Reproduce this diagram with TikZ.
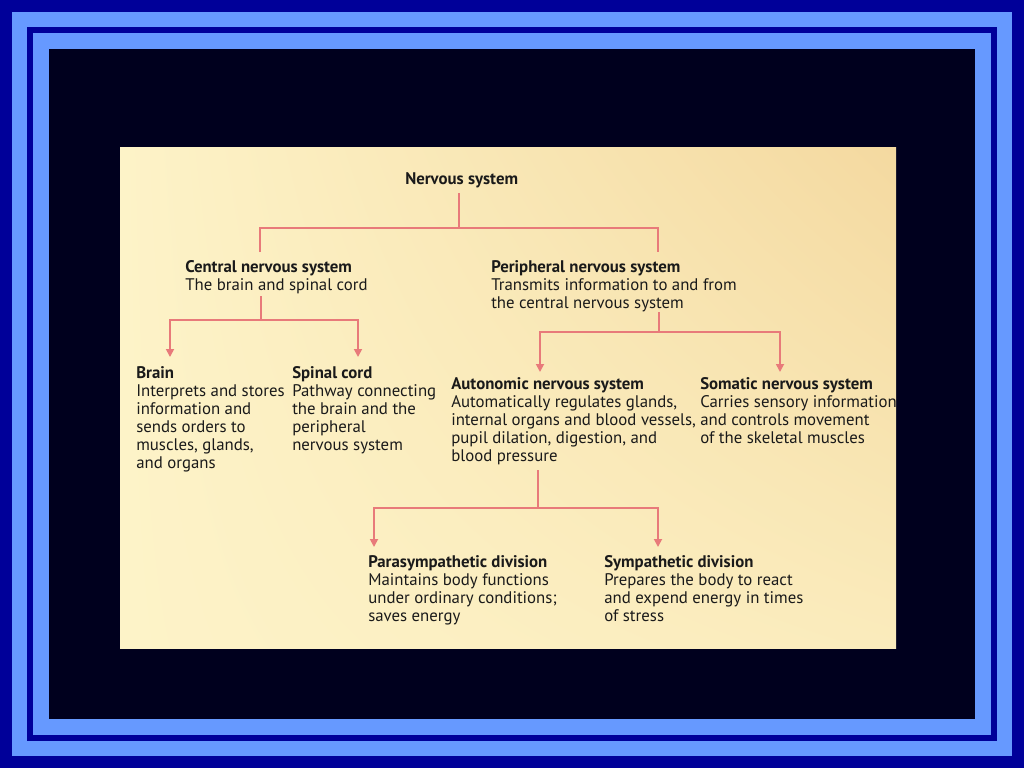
\documentclass[tikz,border=0pt]{standalone}
\usepackage{fontspec}
\setmainfont{PT Sans}
\usetikzlibrary{arrows.meta,shadings}
\definecolor{bgdark}{HTML}{000099}
\definecolor{band}{HTML}{6699FF}
\definecolor{inner}{HTML}{00001E}
\definecolor{tanA}{HTML}{F4D9A0}
\definecolor{tanB}{HTML}{FDF3C8}
\definecolor{link}{HTML}{E87A7A}
\definecolor{txt}{HTML}{1A1A1A}
\begin{document}
\begin{tikzpicture}[x=0.75pt,y=-0.75pt,
  lbl/.style={anchor=north west,align=left,inner sep=0pt,font=\fontsize{12.6}{13.5}\selectfont,text=txt},
  conn/.style={draw=link,line width=1.3pt},
  arr/.style={conn,-{Triangle[length=6pt,width=6pt]}}]
\useasboundingbox (0,0) rectangle (1024,768);
\fill[bgdark] (0,0) rectangle (1024,768);
\fill[band] (12,12) rectangle (1012,756);
\fill[bgdark] (27,27) rectangle (997,741);
\fill[band] (33,33) rectangle (991,735);
\fill[inner] (49,49) rectangle (975,719);
\shade[upper left=tanB,lower right=tanA!30!tanB,lower left=tanB,upper right=tanA] (120,147) rectangle (896,648);

\node[lbl] (ns) at (405,172) {\textbf{Nervous system}};
\node[lbl] (cns) at (185,260) {\textbf{Central nervous system}\\The brain and spinal cord};
\node[lbl] (pns) at (491,260) {\textbf{Peripheral nervous system}\\Transmits information to and from\\the central nervous system};
\node[lbl] (brain) at (136,366) {\textbf{Brain}\\Interprets and stores\\information and\\sends orders to\\muscles, glands,\\and organs};
\node[lbl] (spinal) at (292,366) {\textbf{Spinal cord}\\Pathway connecting\\the brain and the\\peripheral\\nervous system};
\node[lbl] (ans) at (451,377) {\textbf{Autonomic nervous system}\\Automatically regulates glands,\\internal organs and blood vessels,\\pupil dilation, digestion, and\\blood pressure};
\node[lbl] (sns) at (700,377) {\textbf{Somatic nervous system}\\Carries sensory information\\and controls movement\\of the skeletal muscles};
\node[lbl] (para) at (368,555) {\textbf{Parasympathetic division}\\Maintains body functions\\under ordinary conditions;\\saves energy};
\node[lbl] (symp) at (604,555) {\textbf{Sympathetic division}\\Prepares the body to react\\and expend energy in times\\of stress};

\coordinate (ns0) at (459,193); \coordinate (ns1) at (459,228);
\coordinate (c0) at (260,252); \coordinate (p0) at (658,252);
\draw[conn] (ns0) -- (ns1);
\draw[conn] (c0) |- (ns1) -| (p0);

\coordinate (cns0) at (261,296); \coordinate (cns1) at (261,320);
\coordinate (b0) at (170,357); \coordinate (s0) at (358,357);
\draw[conn] (cns0) -- (cns1);
\draw[arr] (cns1) -| (b0);
\draw[arr] (cns1) -| (s0);

\coordinate (pns0) at (659,312); \coordinate (pns1) at (659,332);
\coordinate (a0) at (540,372); \coordinate (so0) at (780,372);
\draw[conn] (pns0) -- (pns1);
\draw[arr] (pns1) -| (a0);
\draw[arr] (pns1) -| (so0);

\coordinate (ans0) at (538,470); \coordinate (ans1) at (538,508);
\coordinate (pa0) at (374,547); \coordinate (sy0) at (658,547);
\draw[conn] (ans0) -- (ans1);
\draw[arr] (ans1) -| (pa0);
\draw[arr] (ans1) -| (sy0);
\end{tikzpicture}
\end{document}
